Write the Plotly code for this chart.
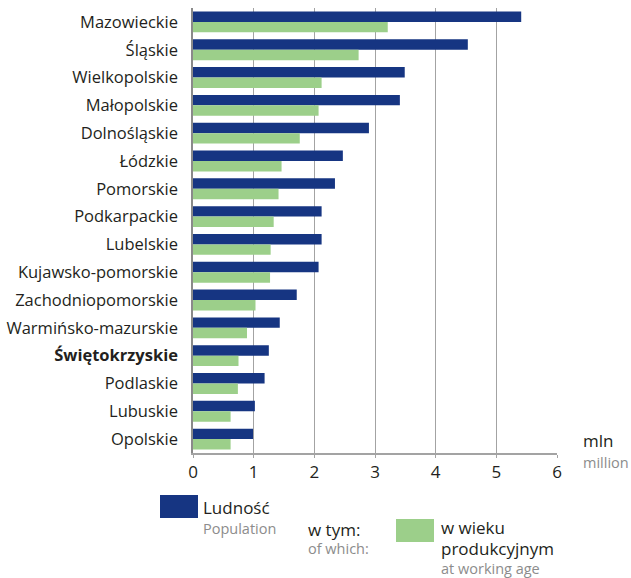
import plotly.graph_objects as go

# Voivodeships, ordered top to bottom
regions = [
    "Mazowieckie", "Śląskie", "Wielkopolskie", "Małopolskie", "Dolnośląskie",
    "Łódzkie", "Pomorskie", "Podkarpackie", "Lubelskie", "Kujawsko-pomorskie",
    "Zachodniopomorskie", "Warmińsko-mazurskie", "Świętokrzyskie", "Podlaskie",
    "Lubuskie", "Opolskie",
]
# Population, million
population = [5.41, 4.53, 3.49, 3.41, 2.90, 2.47, 2.34, 2.12, 2.12, 2.07,
              1.71, 1.43, 1.25, 1.18, 1.02, 0.99]
# of which: at working age, million
working_age = [3.21, 2.73, 2.12, 2.07, 1.76, 1.46, 1.41, 1.33, 1.28, 1.27,
               1.03, 0.89, 0.75, 0.74, 0.62, 0.62]
highlight = "Świętokrzyskie"
x_ticks = [0, 1, 2, 3, 4, 5, 6]

NAVY = "#163582"
GREEN = "#9ccf8a"
TEXT = "#231f20"
GREY_TEXT = "#8c8c8c"
GRID = "#a3a3a3"
FONT = "Open Sans"

W, H = 631, 578
L, R, T, B = 193, 74, 8, 125
PW, PH = W - L - R, H - T - B


def px(x):
    return (x - L) / PW


def py(y):
    return (H - B - y) / PH


tick_text = [f"<b>{r}</b>" if r == highlight else r for r in regions]

fig = go.Figure()
fig.add_trace(go.Bar(y=regions, x=population, orientation="h",
                     marker=dict(color=NAVY, line=dict(width=0)), name="Ludność"))
fig.add_trace(go.Bar(y=regions, x=working_age, orientation="h",
                     marker=dict(color=GREEN, line=dict(width=0)), name="w wieku produkcyjnym"))

fig.update_layout(
    width=W, height=H,
    margin=dict(l=L, r=R, t=T, b=B),
    paper_bgcolor="white", plot_bgcolor="white",
    barmode="group", bargap=0.25, bargroupgap=0,
    showlegend=False,
    font=dict(family=FONT, size=16, color=TEXT),
    xaxis=dict(range=[0, 6], tickvals=x_ticks, showgrid=True, gridcolor=GRID, gridwidth=1,
               showline=True, linecolor=GRID, linewidth=2, ticks="outside", ticklen=3,
               tickcolor=GRID, zeroline=False, automargin=False,
               tickfont=dict(size=17, color=TEXT)),
    yaxis=dict(range=[len(regions) - 0.5, -0.5], tickvals=regions, ticktext=tick_text,
               showline=True, linecolor="#8a8a8a", linewidth=1.5, ticks="",
               ticklabelstandoff=10, automargin=False,
               tickfont=dict(size=16.5, color=TEXT), showgrid=False),
)

# Legend swatches
fig.add_shape(type="rect", xref="paper", yref="paper",
              x0=px(160), x1=px(198), y0=py(518), y1=py(495),
              fillcolor=NAVY, line=dict(width=0))
fig.add_shape(type="rect", xref="paper", yref="paper",
              x0=px(396), x1=px(434), y0=py(542), y1=py(519),
              fillcolor=GREEN, line=dict(width=0))


def label(text, x, y, size, color):
    fig.add_annotation(text=text, xref="paper", yref="paper", x=px(x), y=py(y),
                       xanchor="left", yanchor="middle", align="left",
                       showarrow=False, borderpad=0,
                       font=dict(family=FONT, size=size, color=color))


def two_line(top, bottom, x, y, spacing_size):
    # dark Polish line over a smaller grey English line, in one text block
    text = (f"<span style='font-size:17px;color:{TEXT}'>{top}</span><br>"
            f"<span style='font-size:14.5px;color:{GREY_TEXT}'>{bottom}</span>")
    label(text, x, y, spacing_size, GREY_TEXT)


two_line("mln", "million", 582, 450, 16)
two_line("Ludność", "Population", 202, 517, 15.4)
two_line("w tym:", "of which:", 307, 538, 14)
label("w wieku", 440, 527, 17, TEXT)
two_line("produkcyjnym", "at working age", 440, 557, 14.6)

fig.write_html("out.html")
